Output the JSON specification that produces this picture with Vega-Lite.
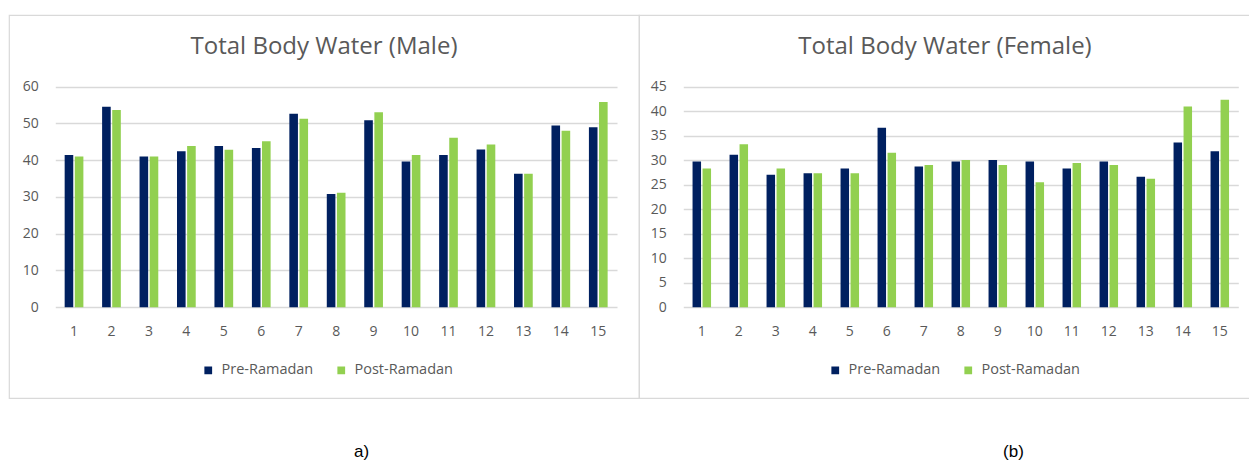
{
  "$schema": "https://vega.github.io/schema/vega-lite/v6.json",
  "padding": {"left": 8, "top": 14, "right": 0, "bottom": 0},
  "background": "white",
  "config": {
    "view": {"stroke": "#d9d9d9", "strokeWidth": 1.2},
    "font": "Open Sans"
  },
  "datasets": {
    "male": [
      {"id": 1, "series": "Pre-Ramadan", "value": 41.4}, {"id": 1, "series": "Post-Ramadan", "value": 41.0},
      {"id": 2, "series": "Pre-Ramadan", "value": 54.5}, {"id": 2, "series": "Post-Ramadan", "value": 53.6},
      {"id": 3, "series": "Pre-Ramadan", "value": 41.0}, {"id": 3, "series": "Post-Ramadan", "value": 41.0},
      {"id": 4, "series": "Pre-Ramadan", "value": 42.4}, {"id": 4, "series": "Post-Ramadan", "value": 43.8},
      {"id": 5, "series": "Pre-Ramadan", "value": 43.8}, {"id": 5, "series": "Post-Ramadan", "value": 42.8},
      {"id": 6, "series": "Pre-Ramadan", "value": 43.3}, {"id": 6, "series": "Post-Ramadan", "value": 45.1},
      {"id": 7, "series": "Pre-Ramadan", "value": 52.6}, {"id": 7, "series": "Post-Ramadan", "value": 51.2},
      {"id": 8, "series": "Pre-Ramadan", "value": 30.8}, {"id": 8, "series": "Post-Ramadan", "value": 31.1},
      {"id": 9, "series": "Pre-Ramadan", "value": 50.8}, {"id": 9, "series": "Post-Ramadan", "value": 53.0},
      {"id": 10, "series": "Pre-Ramadan", "value": 39.6}, {"id": 10, "series": "Post-Ramadan", "value": 41.4},
      {"id": 11, "series": "Pre-Ramadan", "value": 41.4}, {"id": 11, "series": "Post-Ramadan", "value": 46.1},
      {"id": 12, "series": "Pre-Ramadan", "value": 42.9}, {"id": 12, "series": "Post-Ramadan", "value": 44.2},
      {"id": 13, "series": "Pre-Ramadan", "value": 36.3}, {"id": 13, "series": "Post-Ramadan", "value": 36.3},
      {"id": 14, "series": "Pre-Ramadan", "value": 49.4}, {"id": 14, "series": "Post-Ramadan", "value": 48.0},
      {"id": 15, "series": "Pre-Ramadan", "value": 48.9}, {"id": 15, "series": "Post-Ramadan", "value": 55.8}
    ],
    "female": [
      {"id": 1, "series": "Pre-Ramadan", "value": 29.7}, {"id": 1, "series": "Post-Ramadan", "value": 28.3},
      {"id": 2, "series": "Pre-Ramadan", "value": 31.1}, {"id": 2, "series": "Post-Ramadan", "value": 33.2},
      {"id": 3, "series": "Pre-Ramadan", "value": 27.0}, {"id": 3, "series": "Post-Ramadan", "value": 28.3},
      {"id": 4, "series": "Pre-Ramadan", "value": 27.3}, {"id": 4, "series": "Post-Ramadan", "value": 27.3},
      {"id": 5, "series": "Pre-Ramadan", "value": 28.3}, {"id": 5, "series": "Post-Ramadan", "value": 27.3},
      {"id": 6, "series": "Pre-Ramadan", "value": 36.6}, {"id": 6, "series": "Post-Ramadan", "value": 31.5},
      {"id": 7, "series": "Pre-Ramadan", "value": 28.7}, {"id": 7, "series": "Post-Ramadan", "value": 29.0},
      {"id": 8, "series": "Pre-Ramadan", "value": 29.7}, {"id": 8, "series": "Post-Ramadan", "value": 30.0},
      {"id": 9, "series": "Pre-Ramadan", "value": 30.0}, {"id": 9, "series": "Post-Ramadan", "value": 29.0},
      {"id": 10, "series": "Pre-Ramadan", "value": 29.7}, {"id": 10, "series": "Post-Ramadan", "value": 25.5},
      {"id": 11, "series": "Pre-Ramadan", "value": 28.3}, {"id": 11, "series": "Post-Ramadan", "value": 29.4},
      {"id": 12, "series": "Pre-Ramadan", "value": 29.7}, {"id": 12, "series": "Post-Ramadan", "value": 29.0},
      {"id": 13, "series": "Pre-Ramadan", "value": 26.6}, {"id": 13, "series": "Post-Ramadan", "value": 26.2},
      {"id": 14, "series": "Pre-Ramadan", "value": 33.6}, {"id": 14, "series": "Post-Ramadan", "value": 40.9},
      {"id": 15, "series": "Pre-Ramadan", "value": 31.8}, {"id": 15, "series": "Post-Ramadan", "value": 42.3}
    ]
  },
  "spacing": 0,
  "bounds": "flush",
  "resolve": {
    "scale": {"color": "independent", "x": "independent", "y": "independent", "xOffset": "independent"},
    "legend": {"color": "independent"}
  },
  "hconcat": [
    {
      "data": {"name": "male"},
      "width": 630,
      "height": 383,
      "title": {"text": "Total Body Water (Male)", "fontSize": 24, "font": "Open Sans", "fontWeight": "normal", "color": "#595959", "anchor": "middle", "offset": -56, "baseline": "middle"},
      "mark": {"type": "bar"},
      "encoding": {
        "x": {
          "field": "id", "type": "ordinal",
          "scale": {"range": [46.3, 608], "paddingInner": 0.5, "paddingOuter": 0.25},
          "axis": {"title": "a)", "offset": -90.8, "domain": false, "ticks": false, "labelPadding": 17, "labelAngle": 0, "labelFontSize": 14, "labelColor": "#595959", "titleFont": "Liberation Sans", "titleFontSize": 17, "titleFontWeight": "normal", "titleColor": "black", "titleX": 352, "titleY": 144, "titleBaseline": "middle", "titleAlign": "center"}
        },
        "xOffset": {"field": "series", "type": "nominal", "sort": ["Pre-Ramadan", "Post-Ramadan"], "scale": {"paddingInner": 0.15}},
        "y": {
          "field": "value", "type": "quantitative",
          "scale": {"domain": [0, 60], "range": [292.2, 71.5], "nice": false},
          "axis": {"title": null, "values": [0, 10, 20, 30, 40, 50, 60], "offset": -46.3, "domain": false, "ticks": false, "labelPadding": 17, "labelFontSize": 14, "labelColor": "#595959", "gridColor": "#d9d9d9", "gridWidth": 1.3}
        },
        "color": {
          "field": "series", "type": "nominal", "sort": ["Pre-Ramadan", "Post-Ramadan"],
          "scale": {"domain": ["Pre-Ramadan", "Post-Ramadan"], "range": ["#002060", "#92D050"]},
          "legend": {"title": null, "orient": "none", "direction": "horizontal", "legendX": 192, "legendY": 348, "padding": 0, "symbolType": "square", "symbolSize": 60, "symbolStrokeWidth": 0, "labelFontSize": 14.5, "labelColor": "#595959", "labelOffset": 6, "columnPadding": 20}
        }
      }
    },
    {
      "data": {"name": "female"},
      "width": 612,
      "height": 383,
      "title": {"text": "Total Body Water (Female)", "fontSize": 24, "font": "Open Sans", "fontWeight": "normal", "color": "#595959", "anchor": "middle", "offset": -56, "baseline": "middle"},
      "mark": {"type": "bar"},
      "encoding": {
        "x": {
          "field": "id", "type": "ordinal",
          "scale": {"range": [44.3, 599.3], "paddingInner": 0.5, "paddingOuter": 0.25},
          "axis": {"title": "(b)", "offset": -90.8, "domain": false, "ticks": false, "labelPadding": 17, "labelAngle": 0, "labelFontSize": 14, "labelColor": "#595959", "titleFont": "Liberation Sans", "titleFontSize": 17, "titleFontWeight": "normal", "titleColor": "black", "titleX": 374, "titleY": 144, "titleBaseline": "middle", "titleAlign": "center"}
        },
        "xOffset": {"field": "series", "type": "nominal", "sort": ["Pre-Ramadan", "Post-Ramadan"], "scale": {"paddingInner": 0.15}},
        "y": {
          "field": "value", "type": "quantitative",
          "scale": {"domain": [0, 45], "range": [292.2, 71.5], "nice": false},
          "axis": {"title": null, "values": [0, 5, 10, 15, 20, 25, 30, 35, 40, 45], "offset": -44.3, "domain": false, "ticks": false, "labelPadding": 17, "labelFontSize": 14, "labelColor": "#595959", "gridColor": "#d9d9d9", "gridWidth": 1.3}
        },
        "color": {
          "field": "series", "type": "nominal", "sort": ["Pre-Ramadan", "Post-Ramadan"],
          "scale": {"domain": ["Pre-Ramadan", "Post-Ramadan"], "range": ["#002060", "#92D050"]},
          "legend": {"title": null, "orient": "none", "direction": "horizontal", "legendX": 189, "legendY": 348, "padding": 0, "symbolType": "square", "symbolSize": 60, "symbolStrokeWidth": 0, "labelFontSize": 14.5, "labelColor": "#595959", "labelOffset": 6, "columnPadding": 20}
        }
      }
    }
  ]
}
